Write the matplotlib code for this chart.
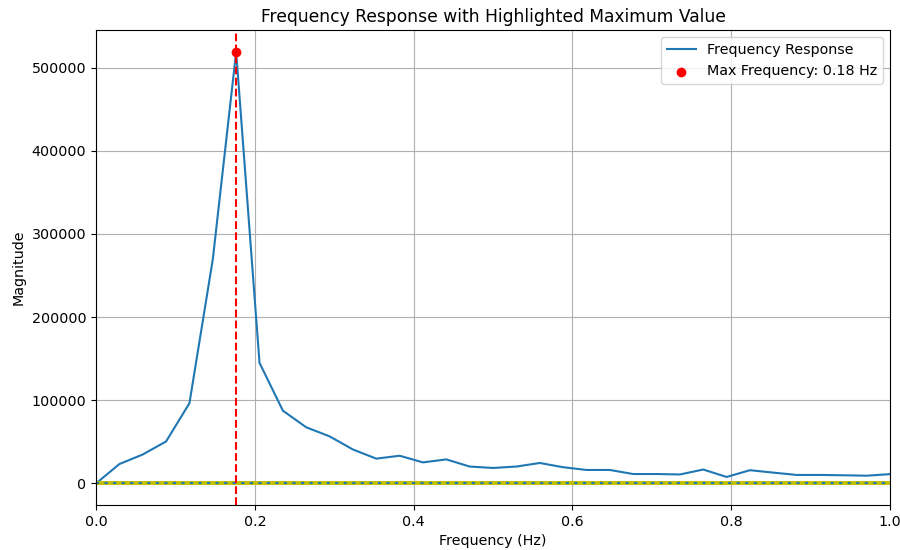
import numpy as np
import matplotlib
matplotlib.use("Agg")
import matplotlib.pyplot as plt

plt.rcParams["font.size"] = 10.3

# frequency grid (Hz) and magnitude
freqs = np.linspace(0.0, 1.0, 35)
magnitude = [
    0, 23300, 34800, 50500, 96500, 269500, 519000, 145000, 87500, 67500,
    56600, 40800, 29800, 33300, 25300, 28900, 20300, 18600, 20300, 24600,
    19500, 16200, 16200, 11300, 11300, 10800, 16700, 7800, 15900, 13000,
    10200, 10200, 9800, 9300, 11200,
]

mag = np.array(magnitude)
idx = int(np.argmax(mag))
max_freq = freqs[idx]

fig = plt.figure(figsize=(9, 5.5), dpi=100)
ax = fig.add_axes([0.1067, 0.0818, 0.8823, 0.8632])

ax.plot(freqs, mag, label="Frequency Response")
ax.axhline(0, color="y", lw=2.8)
ax.axhline(0, color="tab:blue", lw=1.5, linestyle=(0, (1.5, 2.6)))
ax.axvline(max_freq, color="red", linestyle="--", lw=1.5)
ax.scatter([max_freq], [mag[idx]], color="red", zorder=5,
           label=f"Max Frequency: {max_freq:.2f} Hz")

ax.set_xlim(0, 1)
ax.set_title("Frequency Response with Highlighted Maximum Value")
ax.set_xlabel("Frequency (Hz)")
ax.set_ylabel("Magnitude")
ax.grid(True)
ax.legend(loc="upper right")

fig.savefig("out.png")
